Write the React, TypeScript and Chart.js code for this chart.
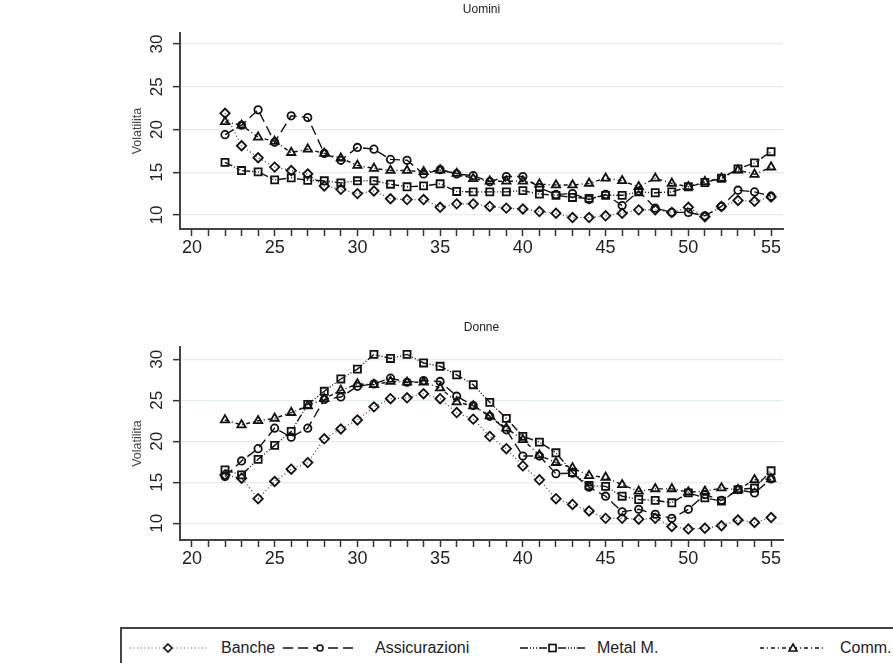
import React, { useEffect, useRef } from 'react';
import { Chart, registerables } from 'chart.js';

Chart.register(...registerables);

// ---------- data ----------
const ages = [22, 23, 24, 25, 26, 27, 28, 29, 30, 31, 32, 33, 34, 35, 36, 37, 38, 39, 40, 41, 42, 43, 44, 45, 46, 47, 48, 49, 50, 51, 52, 53, 54, 55];

const xTicks = [20, 21, 22, 23, 24, 25, 26, 27, 28, 29, 30, 31, 32, 33, 34, 35, 36, 37, 38, 39, 40, 41, 42, 43, 44, 45, 46, 47, 48, 49, 50, 51, 52, 53, 54, 55];
const xLabels = [20, 25, 30, 35, 40, 45, 50, 55];
const yTicks = [10, 15, 20, 25, 30];

const seriesNames = ['Banche', 'Assicurazioni', 'Metal M.', 'Comm.'];

const uominiBanche = [21.9, 18.1, 16.7, 15.6, 15.2, 14.8, 13.4, 13.0, 12.5, 12.8, 11.9, 11.8, 11.8, 10.9, 11.3, 11.3, 11.0, 10.8, 10.7, 10.4, 10.2, 9.7, 9.7, 9.9, 10.2, 10.6, 10.6, 10.3, 10.9, 9.8, 11.0, 11.7, 11.6, 12.1];
const uominiAssic = [19.4, 20.5, 22.3, 18.5, 21.6, 21.4, 17.2, 16.4, 17.9, 17.7, 16.5, 16.4, 14.8, 15.3, 14.8, 14.6, 13.9, 14.5, 14.5, 13.2, 12.4, 12.5, 11.8, 12.4, 11.1, 12.8, 10.8, 10.3, 10.3, 9.9, 11.0, 12.9, 12.7, 12.2];
const uominiMetal = [16.15, 15.2, 15.05, 14.1, 14.35, 14.05, 14.0, 13.75, 14.0, 14.0, 13.6, 13.3, 13.4, 13.65, 12.75, 12.7, 12.7, 12.7, 12.85, 12.45, 12.3, 12.05, 11.95, 12.3, 12.3, 12.7, 12.6, 12.7, 13.3, 13.8, 14.3, 15.4, 16.1, 17.4];
const uominiComm = [20.9, 20.5, 19.1, 18.6, 17.3, 17.7, 17.2, 16.65, 15.8, 15.45, 15.2, 15.2, 15.05, 15.25, 14.85, 14.25, 13.95, 13.95, 13.95, 13.6, 13.5, 13.5, 13.7, 14.3, 14.0, 13.3, 14.3, 13.7, 13.3, 13.9, 14.3, 15.25, 14.75, 15.6];

const donneBanche = [15.9, 15.5, 13.0, 15.1, 16.6, 17.4, 20.3, 21.5, 22.6, 24.2, 25.2, 25.3, 25.8, 25.2, 23.5, 22.7, 20.6, 19.1, 17.0, 15.3, 13.0, 12.3, 11.5, 10.6, 10.6, 10.5, 10.6, 9.6, 9.3, 9.4, 9.7, 10.4, 10.1, 10.7];
const donneAssic = [15.7, 17.6, 19.1, 21.6, 20.5, 21.6, 25.1, 25.4, 26.7, 27.0, 27.7, 27.2, 27.4, 27.3, 25.5, 24.35, 23.05, 21.4, 18.2, 18.2, 16.05, 16.1, 14.4, 13.3, 11.4, 11.7, 11.1, 10.6, 11.7, 13.5, 12.8, 14.1, 13.7, 15.4];
const donneMetal = [16.5, 15.9, 17.8, 19.5, 21.2, 24.5, 26.1, 27.6, 28.8, 30.6, 30.1, 30.6, 29.55, 29.15, 28.1, 26.9, 24.75, 22.8, 20.6, 19.9, 18.6, 16.2, 14.6, 14.5, 13.3, 12.9, 12.8, 12.5, 13.7, 13.1, 12.7, 14.1, 14.3, 16.4];
const donneComm = [22.6, 22.0, 22.5, 22.8, 23.5, 24.3, 25.2, 26.2, 27.0, 26.9, 27.3, 27.2, 27.2, 26.5, 24.8, 24.3, 23.1, 21.6, 20.2, 18.3, 17.4, 16.75, 15.8, 15.6, 14.7, 13.9, 14.2, 14.2, 13.8, 13.9, 14.3, 14.1, 15.3, 15.4];

// ---------- styles ----------
const FONT = '"Liberation Sans", Arial, Helvetica, sans-serif';
Chart.defaults.font.family = FONT;

const seriesStyles = [
  { pointStyle: 'rectRot', radius: 4.7, dash: [1, 2.6], color: '#444', width: 1.3 },
  { pointStyle: 'circle', radius: 3.7, dash: [10, 5], color: '#111', width: 1.4 },
  { pointStyle: 'rect', radius: 5.0, dash: [8, 2, 1, 2, 1, 2, 1, 2], color: '#111', width: 1.4 },
  { pointStyle: 'triangle', radius: 4.8, dash: [4, 3, 1, 3], color: '#111', width: 1.4 },
];

const stataText = {
  id: 'stataText',
  afterDraw(chart: any, _args: any, opts: any) {
    const ctx = chart.ctx;
    const area = chart.chartArea;
    const ys = chart.scales.y;
    ctx.save();
    ctx.fillStyle = '#222';
    ctx.textAlign = 'center';
    ctx.textBaseline = 'middle';
    ctx.font = `12px ${FONT}`;
    ctx.fillText(opts.title, (area.left + area.right) / 2, opts.titleY);
    ctx.font = `17px ${FONT}`;
    for (const t of ys.ticks) {
      const py = ys.getPixelForValue(t.value);
      ctx.save();
      ctx.translate(opts.labelX, py);
      ctx.rotate(-Math.PI / 2);
      ctx.fillText(String(t.value), 0, 0);
      ctx.restore();
    }
    ctx.fillStyle = '#444';
    ctx.font = `12.5px ${FONT}`;
    ctx.save();
    ctx.translate(opts.axisTitleX, (area.top + area.bottom) / 2);
    ctx.rotate(-Math.PI / 2);
    ctx.fillText('Volatilita', 0, 0);
    ctx.restore();
    ctx.restore();
  },
};

type PanelProps = {
  title: string;
  series: number[][];
  top: number;
  height: number;
  plotTop: number;
  plotBottom: number;
  yMin: number;
  yMax: number;
  titleY: number;
};

function Panel({ title, series, top, height, plotTop, plotBottom, yMin, yMax, titleY }: PanelProps) {
  const ref = useRef<HTMLCanvasElement | null>(null);
  useEffect(() => {
    if (!ref.current) return;
    const datasets = series.map((vals, i) => {
      const s = seriesStyles[i];
      return {
        label: seriesNames[i],
        data: ages.map((a, j) => ({ x: a, y: vals[j] })),
        borderColor: s.color,
        borderWidth: s.width,
        borderDash: s.dash,
        pointStyle: s.pointStyle,
        pointRadius: s.radius,
        pointBorderColor: '#111',
        pointBackgroundColor: 'rgba(0,0,0,0)',
        pointBorderWidth: 1.8,
        tension: 0,
        fill: false,
      };
    });
    const chart = new Chart(ref.current, {
      type: 'line',
      data: { datasets: datasets as any },
      plugins: [stataText as any],
      options: {
        animation: false,
        responsive: false,
        devicePixelRatio: 1,
        layout: { padding: { top: plotTop - top, right: 893 - 783, left: 0, bottom: 0 } },
        plugins: {
          legend: { display: false },
          tooltip: { enabled: false },
          title: { display: false },
          stataText: { title, titleY: titleY - top, labelX: 157, axisTitleX: 138 },
        } as any,
        scales: {
          x: {
            type: 'linear',
            min: 19.28,
            max: 55.72,
            afterBuildTicks: (scale: any) => {
              scale.ticks = xTicks.map((v) => ({ value: v }));
            },
            afterFit: (scale: any) => {
              scale.height = top + height - plotBottom;
            },
            ticks: {
              autoSkip: false,
              maxRotation: 0,
              minRotation: 0,
              padding: 1,
              color: '#222',
              font: { size: 18, family: FONT },
              callback: (v: any) => (xLabels.includes(Number(v)) ? String(v) : ''),
            },
            grid: { drawOnChartArea: false, drawTicks: true, tickLength: 7, tickColor: '#333', tickWidth: 1.5 },
            border: { display: true, color: '#444', width: 2 },
          },
          y: {
            type: 'linear',
            min: yMin,
            max: yMax,
            afterBuildTicks: (scale: any) => {
              scale.ticks = yTicks.map((v) => ({ value: v }));
            },
            afterFit: (scale: any) => {
              scale.width = 180;
            },
            ticks: { display: false },
            grid: { color: '#e3edf0', lineWidth: 1.3, drawTicks: true, tickLength: 7, tickColor: '#333', tickWidth: 1.5 },
            border: { display: true, color: '#444', width: 2 },
          },
        },
      },
    });
    return () => chart.destroy();
  }, []);
  return (
    <canvas
      ref={ref}
      width={893}
      height={height}
      style={{ position: 'fixed', left: 0, top, width: 893, height }}
    />
  );
}

function Legend() {
  const cy = 48;
  const txt = (x: number, s: string) => (
    <span
      key={s}
      style={{
        position: 'fixed',
        left: x,
        top: 600 + cy - 9,
        fontFamily: FONT,
        fontSize: 16,
        lineHeight: '18px',
        color: '#222',
        whiteSpace: 'nowrap',
      }}
    >
      {s}
    </span>
  );
  return (
    <>
      <div
        style={{
          position: 'fixed',
          left: 120,
          top: 627,
          width: 900,
          height: 80,
          borderTop: '2px solid #444',
          borderLeft: '2px solid #444',
          boxSizing: 'border-box',
        }}
      />
      <svg width={893} height={63} style={{ position: 'fixed', left: 0, top: 600 }}>
        <line x1={130} y1={cy} x2={207} y2={cy} stroke="#555" strokeWidth={1.2} strokeDasharray="1 2.6" />
        <polygon points={`168,${cy - 4} 172,${cy} 168,${cy + 4} 164,${cy}`} fill="#fff" stroke="#111" strokeWidth={1.6} />
        <line x1={283} y1={cy} x2={358} y2={cy} stroke="#111" strokeWidth={1.5} strokeDasharray="10 5" />
        <circle cx={320} cy={cy} r={3} fill="#fff" stroke="#111" strokeWidth={1.6} />
        <line x1={520} y1={cy} x2={585} y2={cy} stroke="#111" strokeWidth={1.5} strokeDasharray="8 2 1 2 1 2 1 2" />
        <rect x={549} y={cy - 3.5} width={7} height={7} fill="#fff" stroke="#111" strokeWidth={1.7} />
        <line x1={760} y1={cy} x2={826} y2={cy} stroke="#111" strokeWidth={1.5} strokeDasharray="4 3 1 3" />
        <polygon points={`793,${cy - 4} 797,${cy + 3} 789,${cy + 3}`} fill="#fff" stroke="#111" strokeWidth={1.6} />
      </svg>
      {txt(221, seriesNames[0])}
      {txt(375, seriesNames[1])}
      {txt(597, seriesNames[2])}
      {txt(840, seriesNames[3])}
    </>
  );
}

export default function App() {
  return (
    <div style={{ position: 'fixed', left: 0, top: 0, width: 893, height: 663, background: '#fff', overflow: 'hidden' }}>
      <Panel
        title="Uomini"
        series={[uominiBanche, uominiAssic, uominiMetal, uominiComm]}
        top={0}
        height={280}
        plotTop={33}
        plotBottom={229}
        yMin={8.36}
        yMax={31.29}
        titleY={10}
      />
      <Panel
        title="Donne"
        series={[donneBanche, donneAssic, donneMetal, donneComm]}
        top={300}
        height={300}
        plotTop={347}
        plotBottom={540}
        yMin={7.96}
        yMax={31.5}
        titleY={328}
      />
      <Legend />
    </div>
  );
}
